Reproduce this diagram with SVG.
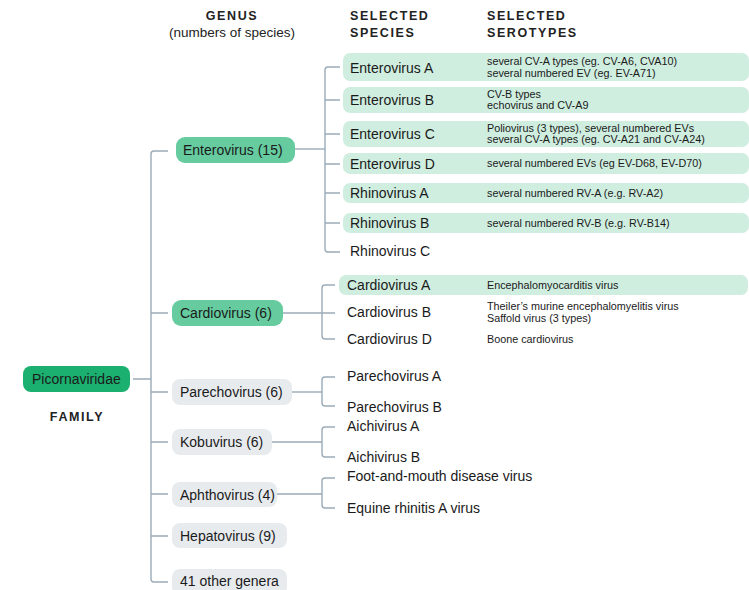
<svg xmlns="http://www.w3.org/2000/svg" width="749" height="590" viewBox="0 0 749 590">
<style>
text{font-family:"Liberation Sans",Arial,sans-serif;fill:#1a1a1a}
.hd{font-size:12.5px;font-weight:bold;letter-spacing:1.6px;fill:#222}
.sub{font-size:13.5px;fill:#222}
.n{font-size:14px}
.s{font-size:10.8px}
.fam{fill:#1cb070}
.gen{fill:#66cca0}
.gray{fill:#e8ebee}
.sp{fill:#d0eee0}
.ln{fill:none;stroke:#9aabb8;stroke-width:1.4}
</style>
<rect width="749" height="590" fill="#fff"/>

<g id="headers">
<text class="hd" x="232" y="20" text-anchor="middle">GENUS</text>
<text class="sub" x="232" y="36.5" text-anchor="middle">(numbers of species)</text>
<text class="hd" x="350" y="20">SELECTED</text>
<text class="hd" x="350" y="36.5">SPECIES</text>
<text class="hd" x="487" y="20">SELECTED</text>
<text class="hd" x="487" y="36.5">SEROTYPES</text>
<text class="hd" x="77" y="420.5" text-anchor="middle">FAMILY</text>
</g>

<g id="connectors">
<path class="ln" d="M168 151 H154 Q151 151 151 154 V579 Q151 582 154 582 H168"/>
<path class="ln" d="M151 313 H168 M151 392 H168 M151 442 H168 M151 494 H168 M151 536 H168 M133 379 H151"/>
<path class="ln" d="M295 149 H325"/>
<path class="ln" d="M340 67 H328 Q325 67 325 70 V249 Q325 252 328 252 H340"/>
<path class="ln" d="M325 100 H340 M325 134 H340 M325 164 H340 M325 193 H340 M325 223 H340"/>
<path class="ln" d="M283 313 H335"/>
<path class="ln" d="M335 285 H325 Q322 285 322 288 V336 Q322 339 325 339 H335"/>
<path class="ln" d="M292 392 H322"/>
<path class="ln" d="M335 377 H325 Q322 377 322 380 V403 Q322 406 325 406 H335"/>
<path class="ln" d="M272 442 H322"/>
<path class="ln" d="M335 427 H325 Q322 427 322 430 V454 Q322 457 325 457 H335"/>
<path class="ln" d="M277 494 H322"/>
<path class="ln" d="M335 478 H325 Q322 478 322 481 V505 Q322 508 325 508 H335"/>
</g>

<g id="picornaviridae">
<rect class="fam" x="23" y="366" width="107" height="26" rx="8"/>
<text class="n" x="32" y="384">Picornaviridae</text>
</g>

<g id="enterovirus">
<rect class="gen" x="176" y="137" width="119" height="26" rx="9"/>
<text class="n" x="183" y="155">Enterovirus (15)</text>
</g>
<g id="cardiovirus">
<rect class="gen" x="172" y="300" width="111" height="26" rx="9"/>
<text class="n" x="180" y="318">Cardiovirus (6)</text>
</g>
<g id="parechovirus">
<rect class="gray" x="172" y="379" width="120" height="26" rx="8"/>
<text class="n" x="180" y="397">Parechovirus (6)</text>
</g>
<g id="kobuvirus">
<rect class="gray" x="172" y="429" width="100" height="26" rx="8"/>
<text class="n" x="180" y="447">Kobuvirus (6)</text>
</g>
<g id="aphthovirus">
<rect class="gray" x="172" y="482" width="105" height="25" rx="8"/>
<text class="n" x="180" y="499.5">Aphthovirus (4)</text>
</g>
<g id="hepatovirus">
<rect class="gray" x="172" y="523" width="115" height="25" rx="8"/>
<text class="n" x="180" y="540.5">Hepatovirus (9)</text>
</g>
<g id="other-genera">
<rect class="gray" x="172" y="569" width="115" height="26" rx="8"/>
<text class="n" x="180" y="586">41 other genera</text>
</g>

<g id="enterovirus-a">
<rect class="sp" x="343" y="53" width="406" height="28" rx="7"/>
<text class="n" x="350" y="72.5">Enterovirus A</text>
<text class="s" x="487" y="65">several CV-A types (eg. CV-A6, CVA10)</text>
<text class="s" x="487" y="76.5">several numbered EV (eg. EV-A71)</text>
</g>
<g id="enterovirus-b">
<rect class="sp" x="343" y="87" width="406" height="26" rx="7"/>
<text class="n" x="350" y="105">Enterovirus B</text>
<text class="s" x="487" y="97.5">CV-B types</text>
<text class="s" x="487" y="109">echovirus and CV-A9</text>
</g>
<g id="enterovirus-c">
<rect class="sp" x="343" y="121" width="406" height="26" rx="7"/>
<text class="n" x="350" y="139">Enterovirus C</text>
<text class="s" x="487" y="131.5">Poliovirus (3 types), several numbered EVs</text>
<text class="s" x="487" y="143">several CV-A types (eg. CV-A21 and CV-A24)</text>
</g>
<g id="enterovirus-d">
<rect class="sp" x="343" y="153" width="406" height="21" rx="7"/>
<text class="n" x="350" y="168.5">Enterovirus D</text>
<text class="s" x="487" y="167">several numbered EVs (eg EV-D68, EV-D70)</text>
</g>
<g id="rhinovirus-a">
<rect class="sp" x="343" y="183" width="406" height="20" rx="7"/>
<text class="n" x="350" y="198">Rhinovirus A</text>
<text class="s" x="487" y="197">several numbered RV-A (e.g. RV-A2)</text>
</g>
<g id="rhinovirus-b">
<rect class="sp" x="343" y="213" width="406" height="20" rx="7"/>
<text class="n" x="350" y="228">Rhinovirus B</text>
<text class="s" x="487" y="227">several numbered RV-B (e.g. RV-B14)</text>
</g>
<g id="rhinovirus-c">
<text class="n" x="350" y="256">Rhinovirus C</text>
</g>
<g id="cardiovirus-a">
<rect class="sp" x="339" y="275" width="409" height="20" rx="7"/>
<text class="n" x="347" y="290">Cardiovirus A</text>
<text class="s" x="487" y="289">Encephalomyocarditis virus</text>
</g>
<g id="cardiovirus-b">
<text class="n" x="347" y="317">Cardiovirus B</text>
<text class="s" x="487" y="310">Theiler’s murine encephalomyelitis virus</text>
<text class="s" x="487" y="322">Saffold virus (3 types)</text>
</g>
<g id="cardiovirus-d">
<text class="n" x="347" y="344">Cardiovirus D</text>
<text class="s" x="487" y="343">Boone cardiovirus</text>
</g>
<g id="parechovirus-a"><text class="n" x="347" y="381">Parechovirus A</text></g>
<g id="parechovirus-b"><text class="n" x="347" y="412">Parechovirus B</text></g>
<g id="aichivirus-a"><text class="n" x="347" y="431">Aichivirus A</text></g>
<g id="aichivirus-b"><text class="n" x="347" y="462">Aichivirus B</text></g>
<g id="fmdv"><text class="n" x="347" y="481">Foot-and-mouth disease virus</text></g>
<g id="erav"><text class="n" x="347" y="513">Equine rhinitis A virus</text></g>
</svg>
